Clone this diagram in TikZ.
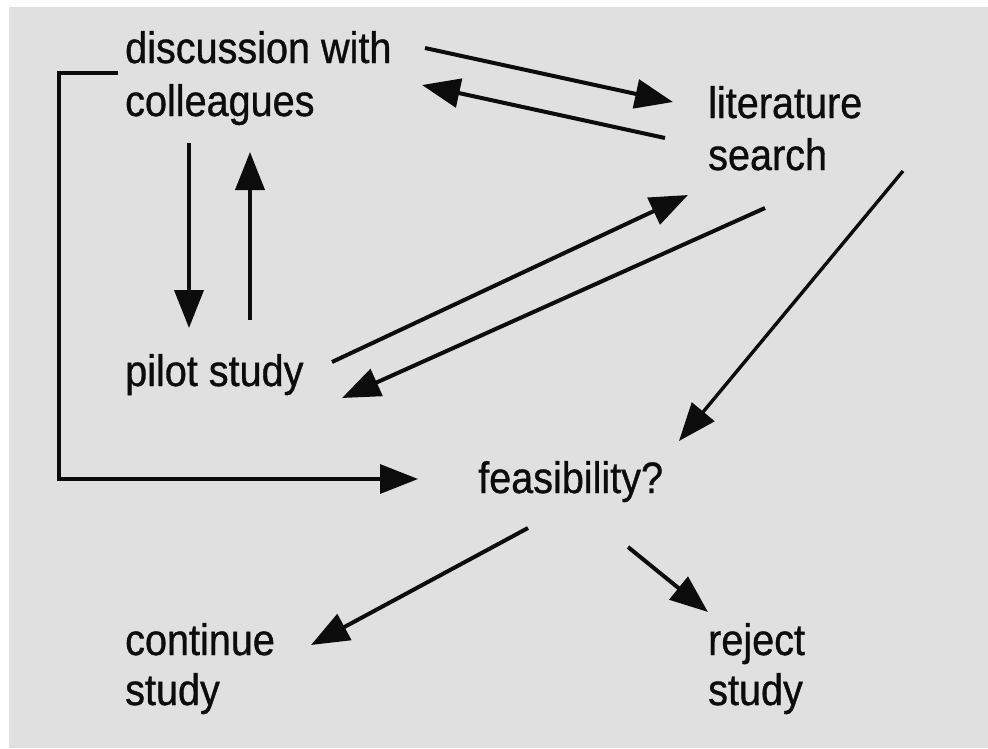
\documentclass[tikz,border=0pt]{standalone}
\usepackage{fontspec}
\setmainfont{Liberation Sans}[FakeStretch=0.9,FakeBold=0.8]
\usetikzlibrary{arrows.meta}
\definecolor{bgpaper}{RGB}{224,224,224}
\definecolor{inkc}{RGB}{12,12,12}
\begin{document}
\begin{tikzpicture}[x=1pt,y=-1pt,
  lbl/.style={anchor=base west,inner sep=0pt,align=left,text=inkc,
    font=\fontsize{44}{52}\selectfont},
  arr/.style={draw=inkc,line width=4pt,-{Triangle[length=38pt,width=29pt]}}]
\useasboundingbox (0,0) rectangle (988,748);
\fill[white] (0,0) rectangle (988,748);
\fill[bgpaper] (9,7) rectangle (988,748);

% base west of a multi-line node lies on its last line
\node[lbl,font=\fontsize{44}{53}\selectfont] (disc) at (125,116) {discussion with\\colleagues};
\node[lbl] (lit) at (708,170) {literature\\search};
\node[lbl] (pilot) at (125,386) {pilot study};
\node[lbl] (feas) at (478,493) {feasibility?};
\node[lbl,font=\fontsize{44}{50}\selectfont] (cont) at (125,705) {continue\\study};
\node[lbl,font=\fontsize{44}{50}\selectfont] (rej) at (708,705) {reject\\study};

% discussion <-> literature
\draw[arr] ([shift={(300,-68)}]disc.base west) -- ([shift={(-35,-68)}]lit.base west);
\draw[arr] ([shift={(-43,-32)}]lit.base west) -- ([shift={(297,-31)}]disc.base west);
% discussion <-> pilot
\draw[arr] ([shift={(64,27)}]disc.base west) -- ([shift={(64,-58)}]pilot.base west);
\draw[arr] ([shift={(125,-66)}]pilot.base west) -- ([shift={(125,36)}]disc.base west);
% pilot <-> literature
\draw[arr] ([shift={(207,-24)}]pilot.base west) -- ([shift={(-20,25)}]lit.base west);
\draw[arr] ([shift={(57,38)}]lit.base west) -- ([shift={(217,12)}]pilot.base west);
% literature -> feasibility
\draw[arr,line width=3.4pt] ([shift={(195,1)}]lit.base west) -- ([shift={(201,-52)}]feas.base west);
% feasibility -> outcomes
\draw[arr] ([shift={(50,35)}]feas.base west) -- ([shift={(186,-60)}]cont.base west);
\draw[arr] ([shift={(150,54)}]feas.base west) -- ([shift={(0,-93)}]rej.base west);
% bracket from discussion to feasibility
\coordinate (bk1) at (59,73);
\coordinate (bk2) at (59,479);
\draw[arr,line width=3.4pt] ([shift={(-7,-43)}]disc.base west) -- (bk1) -- (bk2) -- ([shift={(-60,-14)}]feas.base west);
\end{tikzpicture}
\end{document}
